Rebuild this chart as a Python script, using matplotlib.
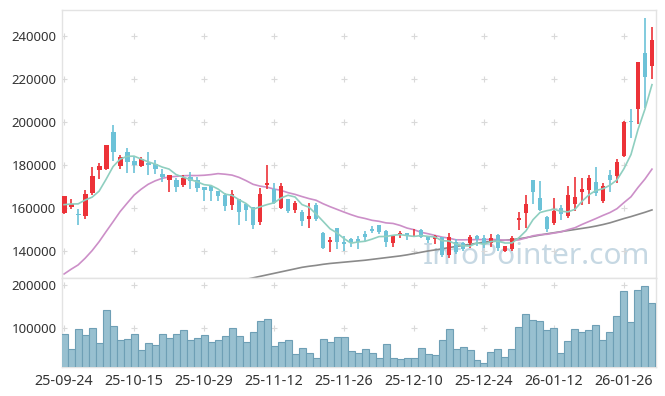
import numpy as np
import matplotlib
matplotlib.use("Agg")
import matplotlib.pyplot as plt

# ---------------- data ----------------
opens = [157500, 160600, 157000, 156400, 167100, 177700, 178000, 195300, 179700, 185900,
         181900, 179700, 180700, 180600, 176000, 173200, 173000, 170700, 174300, 172900,
         169800, 170200, 167900, 165900, 161400, 164200, 161900, 160300, 153500, 170800,
         168700, 159900, 164000, 159100, 158300, 154900, 161400, 148200, 144000, 150600,
         144400, 145500, 145600, 147800, 150200, 152100, 149300, 143900, 147300, 148200,
         146400, 149800, 146700, 145400, 146400, 138100, 144200, 143500, 143600, 147000,
         146000, 143900, 147400, 140100, 141000, 154500, 157500, 173000, 164500, 155700,
         152900, 159900, 156400, 161700, 167600, 168400, 171900, 163300, 175400, 175000,
         184300, 200200, 206200, 232200, 226200]
highs = [165600, 164000, 159400, 168400, 178900, 181000, 189300, 198600, 184700, 188000,
         183900, 183600, 186200, 182300, 178000, 175300, 174100, 175200, 176600, 174300,
         169800, 170300, 167900, 166800, 168400, 164200, 162000, 160300, 169200, 180000,
         171500, 171500, 164000, 163400, 159100, 162200, 162200, 149000, 146700, 150900,
         147000, 146000, 147000, 149300, 151800, 152100, 149800, 147000, 149300, 148300,
         150100, 150100, 146700, 147400, 146400, 148200, 145500, 144000, 147400, 147400,
         147400, 148100, 147900, 142400, 147200, 158300, 166000, 173000, 172500, 156500,
         164500, 161400, 170000, 174300, 174000, 175400, 179200, 171700, 177700, 182700,
         200600, 205900, 228100, 248500, 244200]
lows = [157000, 159700, 152000, 154900, 166200, 173600, 177800, 181900, 178100, 176300,
        176300, 179200, 175400, 175700, 172100, 167600, 167300, 169900, 168700, 167600,
        163400, 163400, 163300, 158800, 159100, 152200, 154100, 150100, 152200, 168700,
        161900, 159400, 157800, 157800, 151700, 150600, 154100, 141100, 139700, 140700,
        140100, 141700, 141000, 144300, 148500, 147700, 142000, 142000, 145900, 145100,
        146300, 145900, 143600, 143300, 137100, 136700, 138600, 139800, 141300, 142500,
        141300, 141800, 140000, 139300, 140100, 149800, 150600, 161900, 158600, 149000,
        152100, 154400, 155200, 158500, 161300, 161900, 165500, 162500, 167600, 171800,
        183600, 192700, 199100, 206500, 219900]
closes = [165500, 161700, 156600, 166400, 174900, 179500, 189300, 186200, 183600, 181500,
          180000, 182600, 179800, 178300, 174600, 175200, 169900, 173800, 172700, 169500,
          168400, 167900, 165600, 160900, 166500, 158300, 159100, 152200, 166500, 171800,
          162500, 170200, 158600, 162500, 154100, 156300, 154700, 141500, 145100, 144400,
          143100, 144100, 144300, 146700, 149400, 149000, 144400, 147000, 148400, 147000,
          147100, 146400, 145100, 147000, 138300, 146300, 139500, 141000, 146400, 145600,
          143100, 146000, 141500, 142300, 145900, 155300, 161900, 167300, 159100, 150200,
          158600, 157100, 166000, 165000, 168800, 173800, 167100, 170000, 173200, 181300,
          199900, 199800, 228000, 221000, 238100]
volumes = [86600, 51400, 97600, 84200, 100000, 64800, 142300, 104700, 72500, 74900,
           86600, 49100, 65500, 60800, 86600, 77200, 86600, 96000, 72500, 77200,
           84200, 67800, 72500, 81900, 100700, 81900, 67800, 91300, 117100, 121800,
           58500, 67800, 72500, 41300, 53800, 42000, 31900, 74900, 67800, 79600,
           78800, 46700, 43600, 53000, 43600, 31900, 64700, 31900, 29500, 31900,
           31900, 55300, 41200, 38900, 71800, 97600, 53000, 57700, 50600, 27200,
           20100, 45900, 53000, 34200, 53000, 102300, 132800, 118700, 116400, 95200,
           99900, 43600, 69400, 97600, 90500, 95200, 107000, 71800, 90500, 128100,
           186800, 114000, 189100, 198500, 158600]

tick_labels = ["25-09-24", "25-10-15", "25-10-29", "25-11-12", "25-11-26",
               "25-12-10", "25-12-24", "26-01-12", "26-01-26"]

# moving-average values before enough in-chart history exists
ma5_head = [161550, 161860, 161900, 163700]
ma20_head = [129300, 131500, 133500, 136600, 140150, 144300, 149000, 153600, 158300,
             162200, 166000, 168700, 171000, 172600, 173800, 174400, 174700, 175000, 175100]
# long moving average (grey); below the axis before day 26
ma60 = [np.nan] * 26 + [
    126800, 127500, 128200, 128900, 129600, 130300, 131000, 131700, 132400, 132900,
    133300, 133800, 134200, 134500, 134800, 135100, 135400, 135700, 136100, 136500,
    136900, 137300, 137700, 138200, 138800, 139400, 140000, 140500, 141000, 141600,
    142100, 142600, 143100, 143600, 144100, 144400, 144700, 145000, 145300, 145700,
    146200, 146800, 147400, 148000, 148500, 149000, 149500, 150000, 150500, 151000,
    151600, 152300, 153100, 154100, 155100, 156000, 157000, 158000, 159100]

price_ticks = [140000, 160000, 180000, 200000, 220000, 240000]
volume_ticks = [100000, 200000]


def rolling_mean(vals, n, head):
    out = list(head)
    for i in range(len(head), len(vals)):
        out.append(float(np.mean(vals[i - n + 1:i + 1])))
    return out


ma5 = rolling_mean(closes, 5, ma5_head)
ma20 = rolling_mean(closes, 20, ma20_head)

# ---------------- drawing ----------------
plt.rcParams['font.family'] = ['Noto Sans', 'DejaVu Sans']

UP = '#ec3238'
DOWN = '#6cc2d8'
SPINE = '#e3e3e3'
GRIDC = '#d9d9d9'
TXT = '#333333'

fig = plt.figure(figsize=(6.65, 3.96), dpi=100)
ax = fig.add_axes([0.0932, 0.298, 0.8932, 0.6768])
axv = fig.add_axes([0.0932, 0.0732, 0.8932, 0.2248], sharex=ax)

n = len(closes)
x = np.arange(n)

# watermark
ax.text(0.99, 0.025, "InfoPointer.com", transform=ax.transAxes, ha='right', va='bottom',
        fontsize=21.5, color='#c6d8e3', zorder=1, family=['Noto Sans', 'DejaVu Sans'])

# candles
for i in range(n):
    o, h, l, c = opens[i], highs[i], lows[i], closes[i]
    col = UP if c >= o else DOWN
    ax.vlines(i, l, h, color=col, lw=1.2, zorder=3)
    body = max(abs(c - o), 500)
    ax.bar(i, body, bottom=min(o, c), width=0.7, color=col, lw=0, zorder=4)

ax.plot(x, ma60, color='#8a8a8a', lw=1.2, zorder=2)
ax.plot(x, ma20, color='#cc8fc8', lw=1.2, zorder=2)
ax.plot(x, ma5, color='#8fcfc0', lw=1.2, zorder=5)

ax.set_xlim(-0.3, 84.57)
ax.set_ylim(127440, 252100)
ax.set_yticks(price_ticks)
ax.set_yticklabels([str(v) for v in price_ticks])

# volume
axv.bar(x, volumes, width=1.0, color='#98c0d0', edgecolor='#6e9fb5', lw=0.8, zorder=3)
axv.set_ylim(9900, 217400)
axv.set_yticks(volume_ticks)
axv.set_yticklabels([str(v) for v in volume_ticks])

tick_pos = list(range(0, n, 10))[:len(tick_labels)]
axv.set_xticks(tick_pos)
axv.set_xticklabels(tick_labels)
plt.setp(ax.get_xticklabels(), visible=False)

for a, yt in ((ax, price_ticks), (axv, volume_ticks)):
    for s in a.spines.values():
        s.set_color(SPINE)
        s.set_linewidth(1)
    a.tick_params(axis='both', length=0, labelsize=9.5, colors=TXT, pad=4)
    gx, gy = np.meshgrid(tick_pos, yt)
    a.scatter(gx.ravel(), gy.ravel(), marker='+', s=14, color=GRIDC, lw=0.8, zorder=1,
              clip_on=True)

axv.tick_params(axis='x', pad=5, labelsize=10.3)
ax.tick_params(axis='x', length=0)

fig.savefig('out.png', dpi=100)
